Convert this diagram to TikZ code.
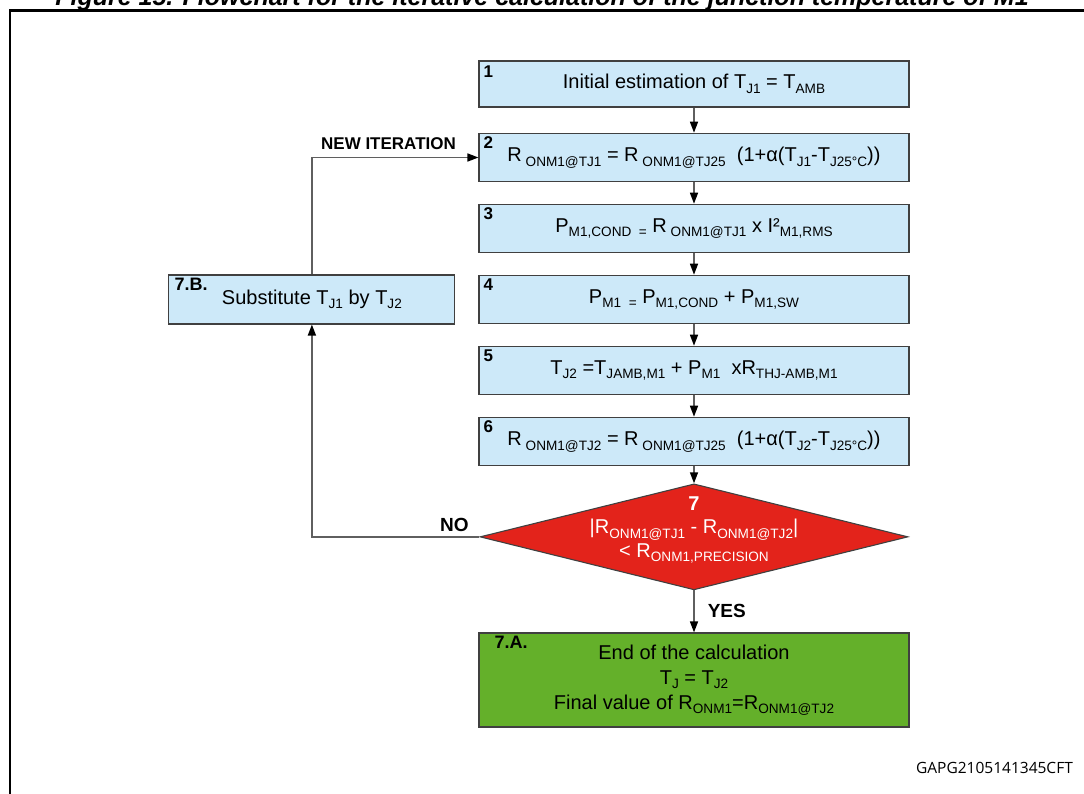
\documentclass[tikz,border=0pt]{standalone}
\usepackage{fontspec}
\setmainfont{Liberation Sans}
\newfontfamily\gapfont{Open Sans}
\usetikzlibrary{positioning,shapes.geometric,arrows.meta}

\definecolor{boxblue}{RGB}{205,233,249}
\definecolor{decred}{RGB}{227,35,27}
\definecolor{endgreen}{RGB}{100,176,42}
\definecolor{linegray}{RGB}{95,95,95}

% small lowered index
\newcommand{\lo}[1]{\raisebox{-0.22em}{\scalebox{0.68}{#1}}}

\tikzset{
    stepbox/.style={draw=black!75, line width=1.1, fill=boxblue, rectangle,
        minimum width=430, minimum height=48.5, inner sep=2,
        font=\fontsize{20}{25}\selectfont, align=center},
    numlbl/.style={font=\bfseries\fontsize{17}{19}\selectfont, anchor=north west, inner sep=0},
    lbl/.style={font=\bfseries\fontsize{19}{21}\selectfont, inner sep=0},
    flow/.style={draw=linegray, line width=1.5, -{Triangle[length=11,width=8,color=black]}}
}

\begin{document}
\begin{tikzpicture}[x=1pt, y=-1pt, node distance=21.4pt]
    \useasboundingbox (0,0) rectangle (1084,793);
    % frame and cut title
    \node[anchor=base, inner sep=0, font=\bfseries\itshape\fontsize{25}{27}\selectfont] (title) at (542,5)
        {Figure 15. Flowchart for the iterative calculation of the junction temperature of M1};
    \draw[line width=2.5] (1100,10.5) -- (10,10.5) -- (10,800);

    % main column
    \node[stepbox, minimum height=46] (b1) at (694,84) {Initial estimation of T\lo{J1} = T\lo{AMB}};
    \node[stepbox] (b2) at (694,157.5) {R\lo{\ ONM1@TJ1} = R\lo{\ ONM1@TJ25}\ \ (1+α(T\lo{J1}-T\lo{J25°C}))};
    \node[stepbox, below=of b2] (b3) {P\lo{M1,COND\ \ =} R\lo{\ ONM1@TJ1} x I²\lo{M1,RMS}};
    \node[stepbox, below=of b3] (b4) {P\lo{M1\ \ =} P\lo{M1,COND} + P\lo{M1,SW}};
    \node[stepbox, below=of b4] (b5) {T\lo{J2} =T\lo{JAMB,M1} + P\lo{M1}\ \ xR\lo{THJ-AMB,M1}};
    \node[stepbox, below=of b5] (b6) {R\lo{\ ONM1@TJ2} = R\lo{\ ONM1@TJ25}\ \ (1+α(T\lo{J2}-T\lo{J25°C}))};
    \node[diamond, draw=black!75, line width=1.1, fill=decred, below=17pt of b6,
        minimum width=428, minimum height=106, inner sep=0] (dec) {};
    \node[text=white, align=center, inner sep=0, font=\fontsize{20}{23.5}\selectfont] (dectext)
        at ([yshift=7pt]dec.center)
        {\textbf{7}\\|R\lo{ONM1@TJ1} - R\lo{ONM1@TJ2}|\\< R\lo{ONM1,PRECISION}};
    \node[stepbox, fill=endgreen, minimum height=94, below=42pt of dec] (b7a)
        {End of the calculation\\T\lo{J} = T\lo{J2}\\Final value of R\lo{ONM1}=R\lo{ONM1@TJ2}};
    \node[stepbox, minimum width=286, minimum height=49, left=23pt of b4] (b7b)
        {Substitute T\lo{J1} by T\lo{J2}};

    % step numbers
    \node[numlbl] (n1) at ([xshift=5pt,yshift=-5pt]b1.north west) {1};
    \node[numlbl] (n2) at ([xshift=5pt,yshift=-4pt]b2.north west) {2};
    \node[numlbl] (n3) at ([xshift=5pt,yshift=-4pt]b3.north west) {3};
    \node[numlbl] (n4) at ([xshift=5pt,yshift=-4pt]b4.north west) {4};
    \node[numlbl] (n5) at ([xshift=5pt,yshift=-4pt]b5.north west) {5};
    \node[numlbl] (n6) at ([xshift=5pt,yshift=-4pt]b6.north west) {6};
    \node[numlbl, font=\bfseries\fontsize{18}{20}\selectfont] (n7a) at ([xshift=16pt,yshift=-4pt]b7a.north west) {7.A.};
    \node[numlbl, font=\bfseries\fontsize{18}{20}\selectfont] (n7b) at ([xshift=6pt,yshift=-3pt]b7b.north west) {7.B.};

    % connectors
    \draw[flow] (b1) -- (b2);
    \draw[flow] (b2) -- (b3);
    \draw[flow] (b3) -- (b4);
    \draw[flow] (b4) -- (b5);
    \draw[flow] (b5) -- (b6);
    \draw[flow] (b6) -- (dec);
    \draw[flow] (dec) -- node[lbl, anchor=west, xshift=13pt] (yes) {YES} (b7a);
    \draw[flow] (dec.west) node[lbl, anchor=south east, xshift=-10pt, yshift=4pt] (no) {NO}
        -- (dec.west -| b7b.south) -- (b7b.south);
    \draw[flow] (b7b.north) |- node[lbl, pos=0.73, anchor=south, yshift=7.5pt,
        font=\bfseries\fontsize{17}{19}\selectfont] (newit) {NEW ITERATION} (b2.west);

    \node[anchor=south east, inner sep=0, font=\gapfont\fontsize{15.5}{17}\selectfont] (code) at (1073,774) {GAPG2105141345CFT};
\end{tikzpicture}
\end{document}
